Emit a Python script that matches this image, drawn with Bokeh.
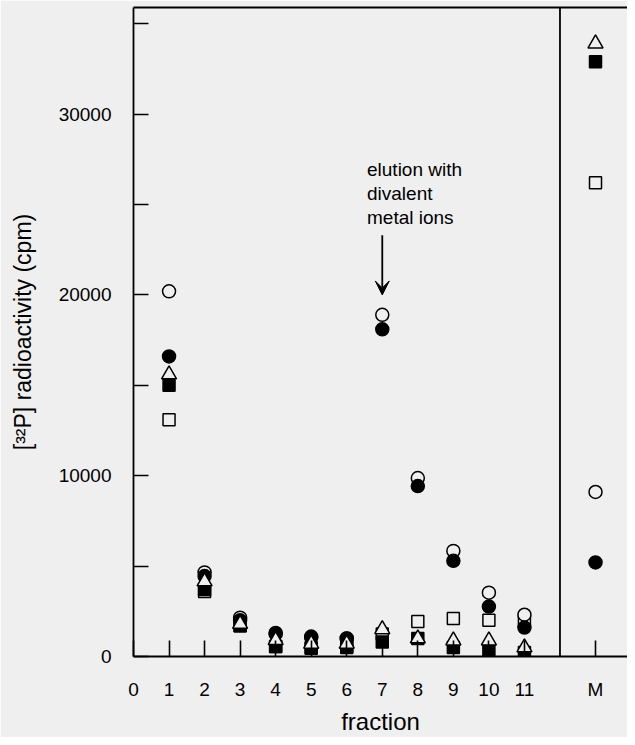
from bokeh.plotting import figure
from bokeh.models import FixedTicker, LinearAxis, Span, Arrow, VeeHead, Label, Range1d
from bokeh.embed import file_html
from bokeh.resources import INLINE

# ---- data ----
x_labels = ["1", "2", "3", "4", "5", "6", "7", "8", "9", "10", "11", "M"]
x_pos = [1, 2, 3, 4, 5, 6, 7, 8, 9, 10, 11, 13]
open_circle   = [20200, 4650, 2150, 1300, 1100, 1000, 18900, 9870, 5840, 3530, 2310, 9100]
filled_circle = [16600, 4450, 2000, 1250, 1050, 1000, 18100, 9430, 5290, 2760, 1600, 5200]
open_triangle = [15600, 4150, 1800, 900, 700, 700, 1500, 1000, 880, 880, 500, 33900]
filled_square = [15000, 3700, 1700, 550, 450, 500, 800, 1000, 500, 330, 220, 32900]
open_square   = [13100, 3600, 1700, 550, 480, 550, 1250, 1930, 2100, 2010, 1930, 26200]
y_ticks = [0, 10000, 20000, 30000]
y_minor = [5000, 15000, 25000, 35000]
x_ticks = [0, 1, 2, 3, 4, 5, 6, 7, 8, 9, 10, 11, 13]
annotation_lines = ["elution with", "divalent", "metal ions"]

BG = "#efefef"
FONT = "Liberation Sans"

p = figure(width=627, height=737, output_backend="svg", toolbar_location=None,
           x_range=Range1d(0, 13.9), y_range=Range1d(0, 35900),
           x_axis_type=None, y_axis_type=None,
           background_fill_color=BG, border_fill_color=BG,
           min_border_left=133, min_border_right=0, min_border_top=7, min_border_bottom=0)
p.outline_line_color = None
p.xgrid.visible = False
p.ygrid.visible = False

# axes
xax = LinearAxis(ticker=FixedTicker(ticks=x_ticks),
                 major_label_overrides={13: "M"})
xax.axis_label = "fraction"
yax = LinearAxis(ticker=FixedTicker(ticks=y_ticks, minor_ticks=y_minor))
yax.axis_label = "[³²P] radioactivity (cpm)"
for ax in (xax, yax):
    ax.axis_line_width = 1.8
    ax.major_tick_line_width = 1.6
    ax.minor_tick_line_width = 1.6
    ax.major_tick_out = 0
    ax.minor_tick_out = 0
    ax.major_label_text_font = FONT
    ax.major_label_text_font_size = "19px"
    ax.major_label_text_color = "black"
    ax.axis_label_text_font = FONT
    ax.axis_label_text_font_style = "normal"
    ax.axis_label_text_color = "black"
xax.axis_label_text_font_size = "24px"
yax.axis_label_text_font_size = "23px"
xax.major_tick_in = 16
xax.minor_tick_line_color = None
xax.major_label_standoff = 22
xax.axis_label_standoff = 5
yax.major_tick_in = 15
yax.minor_tick_in = 15
yax.major_label_standoff = 22
yax.axis_label_standoff = 20
p.add_layout(xax, "below")
p.add_layout(yax, "left")

top = LinearAxis(ticker=FixedTicker(ticks=[]), major_label_text_font_size="0px",
                 major_tick_line_color=None, minor_tick_line_color=None,
                 axis_line_width=1.8)
p.add_layout(top, "above")

# separator between fractions and marker lane
p.add_layout(Span(location=12, dimension="height", line_color="black", line_width=1.8))

# markers (drawn bottom to top)
S = 12
p.scatter(x_pos, open_square, marker="square", size=S, fill_color=BG, line_color="black", line_width=1.5)
p.scatter(x_pos, filled_square, marker="square", size=S, fill_color="black", line_color="black", line_width=1.5)
p.scatter(x_pos, open_circle, marker="circle", size=S + 1, fill_color=BG, line_color="black", line_width=1.5)
p.scatter(x_pos, filled_circle, marker="circle", size=S + 1, fill_color="black", line_color="black", line_width=1.5)
p.scatter(x_pos, open_triangle, marker="triangle", size=S + 3, fill_color=BG, line_color="black", line_width=1.5)

# annotation
for i, t in enumerate(annotation_lines):
    p.add_layout(Label(x=6.57, y=26950 - i * 1320, text=t, text_font=FONT,
                       text_font_size="19px", text_color="black",
                       text_baseline="alphabetic", text_align="left"))
p.add_layout(Arrow(end=VeeHead(size=14, fill_color="black", line_color="black"),
                   x_start=7, y_start=23300, x_end=7, y_end=20000,
                   line_color="black", line_width=1.8))

html = file_html(p, INLINE)
html = html.replace("<body>", '<body style="background-color:%s;">' % BG, 1)
open("out.html", "w").write(html)
